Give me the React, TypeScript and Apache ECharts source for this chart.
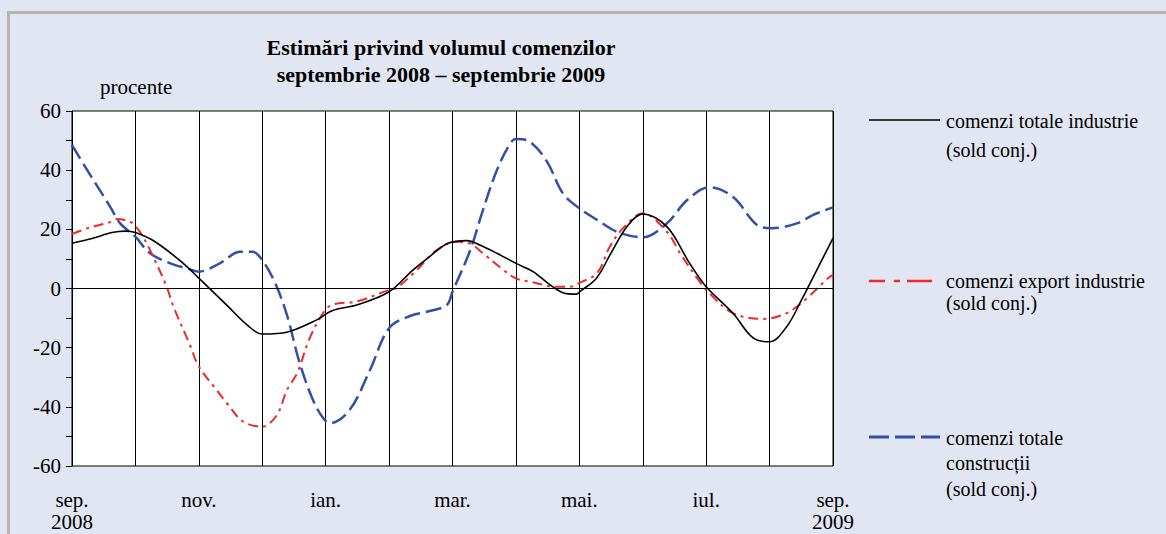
import React, { useEffect, useRef } from "react";
import * as echarts from "echarts";

// x positions are months since September 2008 (0 = sep. 2008, 12 = sep. 2009)
const monthLabels = ["sep.\n2008", "", "nov.", "", "ian.", "", "mar.", "", "mai.", "", "iul.", "", "sep.\n2009"];
const yTicksShown = [-60, -40, -20, 0, 20, 40, 60];

const industryMonths = [0, 0.33, 0.63, 0.84, 1, 1.31, 1.75, 2, 2.44, 2.76, 3, 3.4, 3.86, 4.1, 4.5, 5, 5.38, 5.64, 5.93, 6.23, 6.43, 6.7, 7, 7.27, 7.54, 7.74, 7.96, 8, 8.27, 8.5, 8.75, 9, 9.38, 9.74, 10, 10.42, 10.74, 11, 11.27, 11.5, 11.8, 12];
const industryValues = [15.3, 17, 18.9, 19.4, 18.9, 15.8, 8.6, 3.5, -5.6, -12.3, -15.4, -14.7, -10.6, -7.5, -5.5, -1.1, 6.3, 10.8, 15.3, 16.2, 14.7, 11.9, 8.5, 5.7, 1.2, -1.4, -1.9, -1.2, 3.5, 12, 20.9, 25.2, 20.9, 8.5, 0.6, -8.3, -16.7, -18, -12.9, -4, 8.6, 17];

const exportMonths = [0, 0.25, 0.63, 0.71, 0.91, 1, 1.12, 1.28, 1.5, 1.59, 1.86, 2, 2.28, 2.44, 2.7, 3, 3.23, 3.39, 3.55, 3.75, 3.96, 4.1, 4.5, 5, 5.12, 5.44, 5.75, 6.07, 6.27, 6.48, 6.8, 7, 7.22, 7.65, 7.85, 8, 8.28, 8.48, 8.69, 9, 9.38, 9.59, 9.86, 10.05, 10.42, 10.9, 11.27, 11.55, 11.95, 12];
const exportValues = [18.4, 20.4, 22.6, 23.5, 22.6, 21.1, 17.5, 10.8, 0.2, -5.6, -19.1, -26.4, -34.3, -38.7, -45, -46.7, -42.8, -34.3, -28.6, -16.7, -8.3, -5.5, -4.3, -0.5, 0.2, 6.3, 13, 15.8, 15.3, 11.9, 6.3, 3.4, 2.3, 0.6, 0.6, 1.9, 5.2, 14.1, 20.4, 25.4, 19.2, 11.9, 3.4, -1.6, -8.3, -10.3, -8.3, -4, 4, 4.5];

const constructionMonths = [0, 0.24, 0.6, 0.76, 1, 1.23, 1.55, 1.81, 2, 2.33, 2.65, 2.85, 3, 3.2, 3.39, 3.59, 3.8, 3.96, 4.07, 4.38, 4.7, 5, 5.33, 5.64, 5.91, 6, 6.28, 6.48, 6.7, 6.91, 7, 7.22, 7.49, 7.74, 8, 8.28, 8.59, 9, 9.38, 9.7, 10.05, 10.42, 10.8, 11.03, 11.43, 11.68, 12];
const constructionValues = [48.5, 40, 27.7, 22, 17.5, 11.9, 8.5, 6.8, 5.7, 8.5, 12.4, 12.4, 9.6, 2, -9, -25.2, -37.7, -43.8, -45.5, -41, -27.5, -13.4, -9.3, -7.6, -5.6, -1.1, 13, 26.5, 40, 49, 50.5, 49.6, 42.9, 32.2, 27.1, 23.2, 19.2, 17.3, 22, 29.9, 34.2, 31, 21.5, 20.4, 22, 24.8, 27.4];

const legendLines = [
  ["comenzi totale industrie", "(sold conj.)"],
  ["comenzi export industrie", "(sold conj.)"],
  ["comenzi totale", "construcții", "(sold conj.)"],
];
const seriesNames = legendLines.map((l) => l.join(" "));

const pairs = (xs: number[], ys: number[]) => xs.map((x, i) => [x, ys[i]]);

const SERIF = "'Liberation Serif', 'Times New Roman', serif";
const RED = "#ee2a2a";
const BLUE = "#3150a6";

export default function App() {
  const ref = useRef<HTMLDivElement>(null);
  useEffect(() => {
    const chart = echarts.init(ref.current!, undefined, { renderer: "svg" });
    const txt = (x: number, y: number, text: string, size: number, extra: any = {}) => ({
      type: "text",
      x,
      y,
      style: {
        text,
        fontFamily: SERIF,
        fontSize: size,
        fill: "#000",
        verticalAlign: "middle",
        ...extra,
      },
    });
    const legendItem = (y: number, ys: number[], color: string, dash: any, width: number, lines: string[]) => [
      {
        type: "line",
        shape: { x1: 869, y1: y, x2: 940, y2: y },
        style: { stroke: color, lineWidth: width, lineDash: dash },
      },
      ...lines.map((l, i) => txt(946, ys[i], l, 20)),
    ];
    chart.setOption({
      animation: false,
      backgroundColor: "#e2e6f3",
      grid: {
        left: 72,
        top: 111,
        right: 333,
        bottom: 68,
        show: true,
        backgroundColor: "#ffffff",
        borderColor: "#000",
        borderWidth: 1,
      },
      graphic: [
        { type: "rect", shape: { x: 7, y: 11, width: 1166, height: 3 }, style: { fill: "#b4b4b4" } },
        { type: "rect", shape: { x: 7, y: 11, width: 3, height: 530 }, style: { fill: "#b4b4b4" } },
        txt(441, 47, "Estimări privind volumul comenzilor", 22, { fontWeight: "bold", align: "center" }),
        txt(441, 74, "septembrie 2008 – septembrie 2009", 22, { fontWeight: "bold", align: "center" }),
        txt(100, 87, "procente", 21),
        ...legendItem(120, [121, 150], "#000", null, 1.5, legendLines[0]),
        ...legendItem(281, [281, 303], RED, [16, 9, 6, 7, 9, 0], 2.5, legendLines[1]),
        ...legendItem(437, [438, 463, 489], BLUE, [20, 6], 3, legendLines[2]),
      ],
      xAxis: {
        type: "value",
        min: 0,
        max: 12,
        interval: 1,
        axisLine: { show: false },
        axisTick: { show: false },
        splitLine: { show: true, lineStyle: { color: "#000", width: 1 } },
        axisLabel: {
          margin: 23,
          color: "#000",
          fontFamily: SERIF,
          fontSize: 21,
          lineHeight: 22,
          verticalAlign: "top",
          formatter: (v: number) => monthLabels[Math.round(v)] ?? "",
        },
      },
      yAxis: {
        type: "value",
        min: -60,
        max: 60,
        interval: 10,
        axisLine: { show: true, lineStyle: { color: "#000", width: 1 } },
        axisTick: { show: true, inside: false, length: 6, lineStyle: { color: "#000" } },
        splitLine: { show: false },
        axisLabel: {
          margin: 11,
          color: "#000",
          fontFamily: SERIF,
          fontSize: 21,
          formatter: (v: number) => (yTicksShown.includes(v) ? String(v) : ""),
        },
      },
      series: [
        {
          name: seriesNames[0],
          type: "line",
          data: pairs(industryMonths, industryValues),
          showSymbol: false,
          smooth: 0.35,
          lineStyle: { color: "#000", width: 1.6 },
          z: 4,
          markLine: {
            silent: true,
            symbol: "none",
            label: { show: false },
            lineStyle: { color: "#000", width: 1, type: "solid" },
            data: [{ yAxis: 0 }],
          },
        },
        {
          name: seriesNames[1],
          type: "line",
          data: pairs(exportMonths, exportValues),
          showSymbol: false,
          smooth: 0.35,
          lineStyle: { color: RED, width: 2, type: [10, 5, 3, 5] },
          z: 3,
        },
        {
          name: seriesNames[2],
          type: "line",
          data: pairs(constructionMonths, constructionValues),
          showSymbol: false,
          smooth: 0.35,
          lineStyle: { color: BLUE, width: 2.5, type: [16, 6] },
          z: 2,
        },
      ],
    });
    return () => chart.dispose();
  }, []);
  return (
    <div
      ref={ref}
      style={{ position: "fixed", left: 0, top: 0, width: 1166, height: 534 }}
    />
  );
}
